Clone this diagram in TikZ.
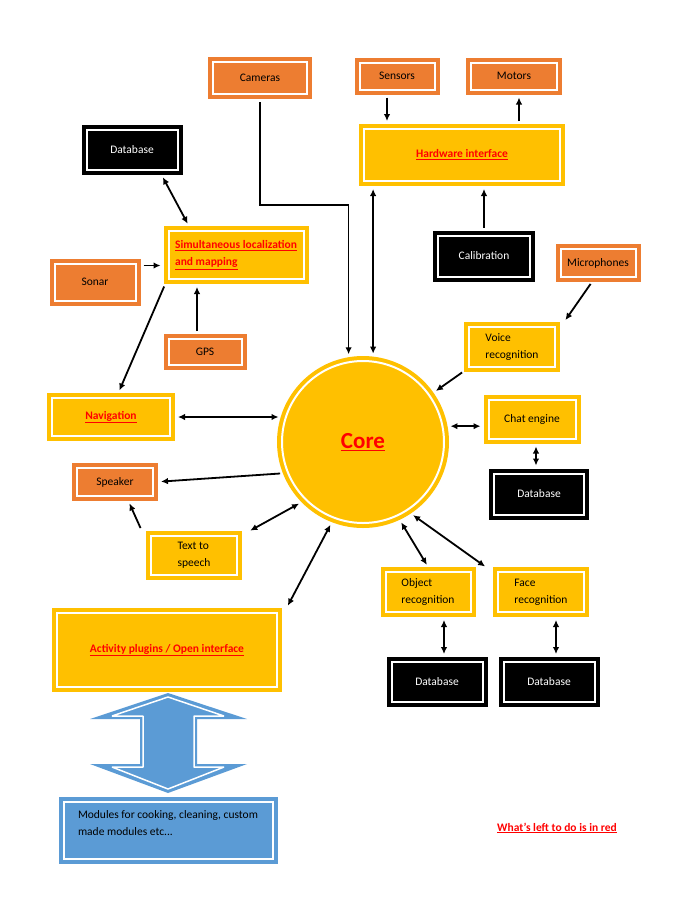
\documentclass[tikz,border=0pt]{standalone}
\usepackage{fontspec}
\setmainfont{Carlito}
\usetikzlibrary{arrows.meta}
\definecolor{gold}{HTML}{FFC000}
\definecolor{tangerine}{HTML}{ED7D31}
\definecolor{steel}{HTML}{5B9BD5}
\newcommand\redtxt[1]{\textcolor{red}{\bfseries\underline{#1}}}
\tikzset{
    dbl/.style={draw=#1, fill=#1, double=white, double distance=2pt,
        line width=4pt, inner sep=2pt, align=left,
        font=\fontsize{11.5}{17}\selectfont},
    goldbox/.style={dbl=gold},
    orangebox/.style={dbl=tangerine},
    blackbox/.style={dbl=black, text=white},
    bluebox/.style={dbl=steel},
    link/.style={line width=1.8pt, shorten <=6pt, shorten >=6pt},
}

\begin{document}
\begin{tikzpicture}[x=1pt, y=-1pt, >={Latex[length=7pt,width=6.5pt]}]
\useasboundingbox (0,0) rectangle (700,906);

% hardware side
\node[orangebox, minimum width=94pt, minimum height=32pt] (cameras) at (260,78) {Cameras};
\node[orangebox, minimum width=75pt, minimum height=27pt] (sensors) at (397,76) {Sensors};
\node[orangebox, minimum width=86pt, minimum height=27pt] (motors) at (514,76) {Motors};
\node[goldbox, minimum width=196pt, minimum height=52pt] (hw) at (462,155) {\redtxt{Hardware interface}};
\node[blackbox, minimum width=92pt, minimum height=41pt] (calib) at (484,256) {Calibration};

% localization side
\node[blackbox, minimum width=91pt, minimum height=40pt] (dbslam) at (132,150) {Database};
\node[goldbox, minimum width=135pt, minimum height=48pt] (slam) at (236,255)
  {\redtxt{Simultaneous localization}\\\redtxt{and mapping}};
\node[orangebox, minimum width=81pt, minimum height=37pt] (sonar) at (95,282) {Sonar};
\node[orangebox, minimum width=73pt, minimum height=26pt] (gps) at (205,352) {GPS};
\node[goldbox, minimum width=118pt, minimum height=38pt] (nav) at (111,417) {\redtxt{Navigation}};

% the core
\node[dbl=gold, circle, minimum size=162pt] (core) at (363,442)
  {\fontsize{23}{27}\selectfont\redtxt{Core}};

% speech
\node[orangebox, minimum width=75pt, minimum height=28pt] (mics) at (598,263) {Microphones};
\node[goldbox, minimum width=86pt, minimum height=40pt] (voice) at (512,347) {Voice\\recognition};
\node[goldbox, minimum width=87pt, minimum height=39pt] (chat) at (532,419) {Chat engine};
\node[blackbox, minimum width=90pt, minimum height=41pt] (dbchat) at (539,494) {Database};
\node[orangebox, minimum width=76pt, minimum height=28pt] (speaker) at (115,482) {Speaker};
\node[goldbox, minimum width=86pt, minimum height=39pt] (tts) at (194,555) {Text to\\speech};

% vision
\node[goldbox, minimum width=85pt, minimum height=40pt] (obj) at (428,592) {Object\\recognition};
\node[goldbox, minimum width=86pt, minimum height=40pt] (face) at (541,592) {Face\\recognition};
\node[blackbox, minimum width=91pt, minimum height=40pt] (dbobj) at (437,682) {Database};
\node[blackbox, minimum width=91pt, minimum height=40pt] (dbface) at (549,682) {Database};

% plugins
\node[goldbox, minimum width=220pt, minimum height=74pt] (act) at (167,650)
  {\redtxt{Activity plugins / Open interface}};
\node[bluebox, minimum width=209pt, minimum height=57pt, text depth=15pt] (mods) at (168,830)
  {Modules for cooking, cleaning, custom\\made modules etc...};
\fill[steel] (168,693) -- (247,719) -- (197,719) -- (197,764) -- (247,764) -- (168,793)
  -- (90,764) -- (140,764) -- (140,719) -- (90,719) -- cycle;
\draw[white, line width=1.5pt, line join=bevel] (168,697) -- (224,716) -- (194,716) -- (194,767)
  -- (224,767) -- (168,789) -- (112,767) -- (143,767) -- (143,716) -- (112,716) -- cycle;

\node[font=\fontsize{11.5}{14}\selectfont] (note) at (557,828) {\redtxt{What’s left to do is in red}};

% connectors
\draw[link, ->] (cameras.south) -- ++(0,109) -| (core.100);
\draw[link, <->] (core.83) -- (core.83 |- hw.south);
\draw[link, ->] ([xshift=-10pt]sensors.south) -- ([xshift=-10pt]sensors.south |- hw.north);
\draw[link, ->] ([xshift=5pt]motors.south |- hw.north) -- ([xshift=5pt]motors.south);
\draw[link, ->] (calib.north) -- (calib.north |- hw.south);

\draw[link, <->] ([xshift=28pt]dbslam.south) -- ([xshift=24pt]slam.north west);
\draw[link, ->] ([yshift=-4pt]sonar.north east) -- ([yshift=-4pt]sonar.north east -| slam.west);
\draw[link, ->] ([xshift=-8pt]gps.north) -- ([xshift=-8pt]gps.north |- slam.south);
\draw[link, ->] (slam.south west) -- ([xshift=6pt]nav.north);
\draw[link, <->] (nav.east) -- (nav.east -| core.161);

\draw[link, ->] ([xshift=-4pt]mics.south) -- ([xshift=5pt]voice.north east);
\draw[link, ->] (voice.south west) -- (core.35);
\draw[link, <->] (core.11) -- (core.11 -| chat.west);
\draw[link, <->] ([xshift=4pt]chat.south) -- ([xshift=4pt]chat.south |- dbchat.north);
\draw[link, ->] (core.202) -- (speaker.east);
\draw[link, ->] ([xshift=-6pt]tts.north west) -- ([xshift=12pt]speaker.south);
\draw[link, <->] (core.225) -- ([xshift=6pt]tts.north east);

\draw[link, <->] (core.249) -- ([xshift=6pt]act.north east);
\draw[link, <->] (core.295) -- ([xshift=2pt]obj.north);
\draw[link, <->] (core.303) -- ([xshift=-6pt]face.north west);
\draw[link, <->] ([xshift=16pt]obj.south) -- ([xshift=16pt]obj.south |- dbobj.north);
\draw[link, <->] ([xshift=15pt]face.south) -- ([xshift=15pt]face.south |- dbface.north);
\end{tikzpicture}
\end{document}
